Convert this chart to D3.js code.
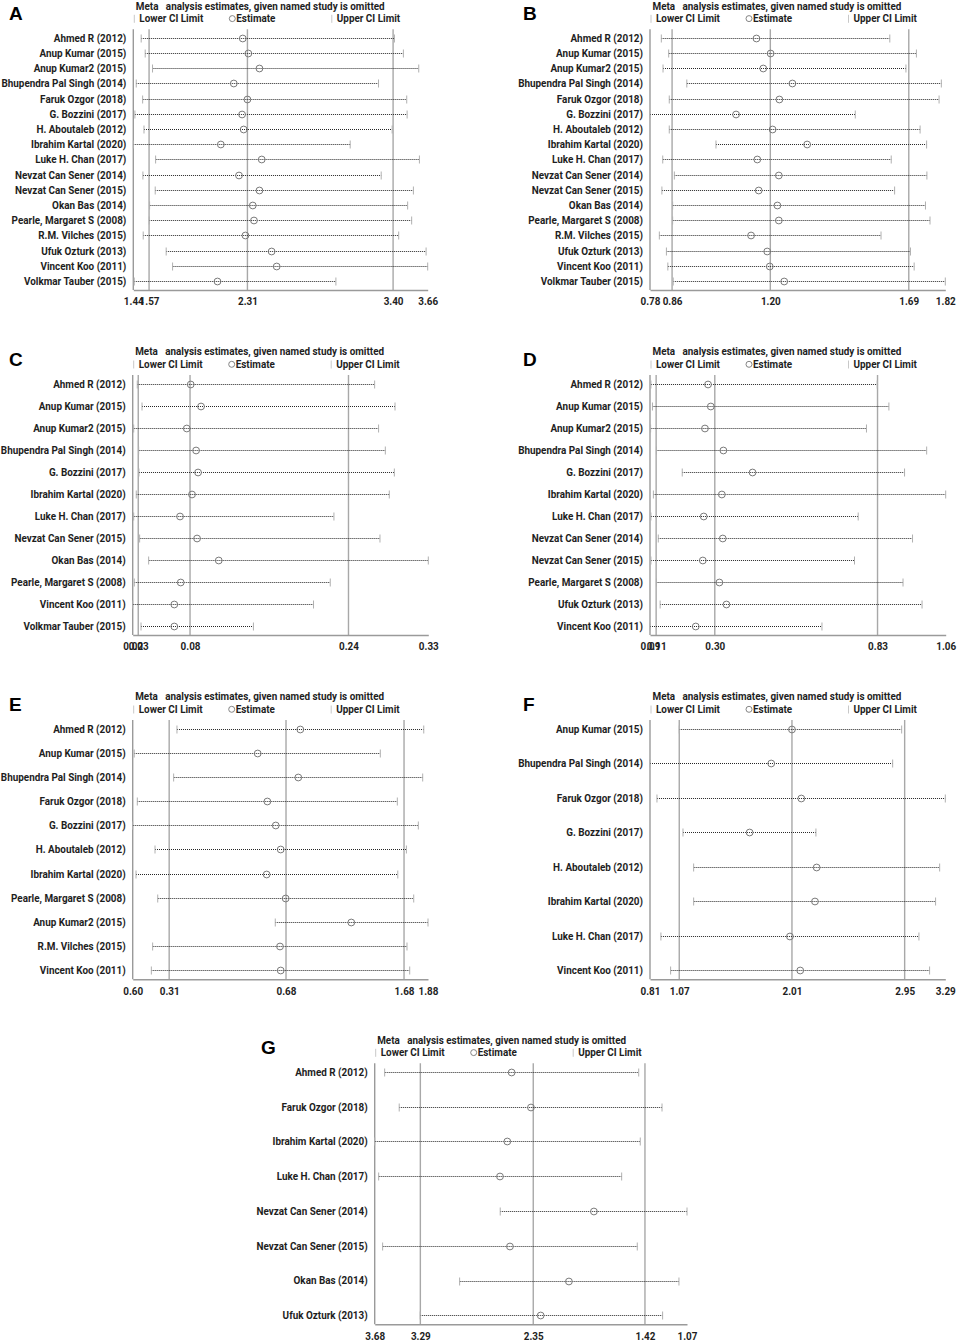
<!DOCTYPE html>
<html>
<head>
<meta charset="utf-8">
<script src="https://cdn.jsdelivr.net/npm/d3@7"></script>
<style>
  html, body { margin: 0; padding: 0; background: #fff; }
  svg text.t { font-family: "Roboto", "Liberation Sans", sans-serif; font-weight: bold; fill: #1e1e1e; }
</style>
</head>
<body>
<svg id="chart" width="959" height="1342"></svg>
<script>
// ---------------- DATA ----------------
const studiesA = ["Ahmed R (2012)","Anup Kumar (2015)","Anup Kumar2 (2015)","Bhupendra Pal Singh (2014)","Faruk Ozgor (2018)","G. Bozzini (2017)","H. Aboutaleb (2012)","Ibrahim Kartal (2020)","Luke H. Chan (2017)","Nevzat Can Sener (2014)","Nevzat Can Sener (2015)","Okan Bas (2014)","Pearle, Margaret S (2008)","R.M. Vilches (2015)","Ufuk Ozturk (2013)","Vincent Koo (2011)","Volkmar Tauber (2015)"];
const lowerA = [1.515,1.545,1.600,1.478,1.526,1.468,1.536,1.456,1.623,1.528,1.620,1.578,1.575,1.530,1.702,1.750,1.463];
const estA   = [2.275,2.317,2.400,2.208,2.310,2.270,2.282,2.111,2.417,2.247,2.400,2.350,2.359,2.295,2.491,2.529,2.086];
const upperA = [3.410,3.477,3.592,3.291,3.502,3.505,3.393,3.079,3.597,3.311,3.552,3.509,3.539,3.442,3.647,3.659,2.972];
const refA = [1.574,2.31,3.40];
const tickValsA = [1.456,1.574,2.31,3.40,3.659];
const tickLabelsA = ["1.44","1.57","2.31","3.40","3.66"];

const studiesB = studiesA;
const lowerB = [0.815,0.841,0.821,0.905,0.843,0.775,0.843,1.008,0.820,0.861,0.817,0.855,0.855,0.808,0.833,0.838,0.857];
const estB   = [1.151,1.201,1.175,1.278,1.232,1.079,1.208,1.330,1.154,1.230,1.159,1.225,1.230,1.132,1.189,1.198,1.249];
const upperB = [1.622,1.716,1.679,1.804,1.796,1.500,1.729,1.752,1.627,1.753,1.639,1.748,1.764,1.591,1.695,1.708,1.818];
const refB = [0.853,1.20,1.689];
const tickValsB = [0.775,0.853,1.20,1.689,1.818];
const tickLabelsB = ["0.78","0.86","1.20","1.69","1.82"];

const studiesC = ["Ahmed R (2012)","Anup Kumar (2015)","Anup Kumar2 (2015)","Bhupendra Pal Singh (2014)","G. Bozzini (2017)","Ibrahim Kartal (2020)","Luke H. Chan (2017)","Nevzat Can Sener (2015)","Okan Bas (2014)","Pearle, Margaret S (2008)","Vincent Koo (2011)","Volkmar Tauber (2015)"];
const lowerC = [0.0267,0.0315,0.0231,0.0281,0.0284,0.0257,0.0231,0.0291,0.0382,0.0237,0.0221,0.0305];
const estC   = [0.0807,0.0911,0.0767,0.0861,0.0881,0.0820,0.0699,0.0871,0.1090,0.0706,0.0641,0.0641];
const upperC = [0.2664,0.2870,0.2704,0.2772,0.2863,0.2812,0.2253,0.2718,0.3206,0.2216,0.2047,0.1440];
const refC = [0.0277,0.08,0.24];
const tickValsC = [0.0221,0.0277,0.08,0.24,0.3206];
const tickLabelsC = ["0.02","0.03","0.08","0.24","0.33"];

const studiesD = ["Ahmed R (2012)","Anup Kumar (2015)","Anup Kumar2 (2015)","Bhupendra Pal Singh (2014)","G. Bozzini (2017)","Ibrahim Kartal (2020)","Luke H. Chan (2017)","Nevzat Can Sener (2014)","Nevzat Can Sener (2015)","Pearle, Margaret S (2008)","Ufuk Ozturk (2013)","Vincent Koo (2011)"];
const lowerD = [0.092,0.097,0.091,0.110,0.194,0.100,0.092,0.116,0.092,0.110,0.122,0.089];
const estD   = [0.278,0.287,0.268,0.328,0.423,0.323,0.264,0.326,0.261,0.315,0.338,0.238];
const upperD = [0.829,0.867,0.794,0.990,0.918,1.052,0.767,0.944,0.755,0.913,0.975,0.649];
const refD = [0.109,0.30,0.83];
const tickValsD = [0.089,0.109,0.30,0.83,1.052];
const tickLabelsD = ["0.09","0.11","0.30","0.83","1.06"];

const studiesE = ["Ahmed R (2012)","Anup Kumar (2015)","Bhupendra Pal Singh (2014)","Faruk Ozgor (2018)","G. Bozzini (2017)","H. Aboutaleb (2012)","Ibrahim Kartal (2020)","Pearle, Margaret S (2008)","Anup Kumar2 (2015)","R.M. Vilches (2015)","Vincent Koo (2011)"];
const lowerE = [-0.244,-0.606,-0.272,-0.580,-0.619,-0.430,-0.591,-0.407,0.589,-0.450,-0.461];
const estE   = [0.801,0.440,0.784,0.522,0.593,0.635,0.516,0.677,1.233,0.629,0.635];
const upperE = [1.847,1.479,1.838,1.623,1.801,1.700,1.627,1.762,1.883,1.705,1.728];
const refE = [-0.31,0.68,1.68];
const tickValsE = [-0.619,-0.31,0.68,1.68,1.883];
const tickLabelsE = ["0.60","0.31","0.68","1.68","1.88"];

const studiesF = ["Anup Kumar (2015)","Bhupendra Pal Singh (2014)","Faruk Ozgor (2018)","G. Bozzini (2017)","H. Aboutaleb (2012)","Ibrahim Kartal (2020)","Luke H. Chan (2017)","Vincent Koo (2011)"];
const lowerF = [1.070,0.826,0.884,1.101,1.190,1.190,0.917,0.998];
const estF   = [2.010,1.837,2.088,1.657,2.216,2.202,1.993,2.079];
const upperF = [2.925,2.850,3.289,2.210,3.242,3.208,3.069,3.158];
const refF = [1.07,2.01,2.95];
const tickValsF = [0.826,1.07,2.01,2.95,3.289];
const tickLabelsF = ["0.81","1.07","2.01","2.95","3.29"];

const studiesG = ["Ahmed R (2012)","Faruk Ozgor (2018)","Ibrahim Kartal (2020)","Luke H. Chan (2017)","Nevzat Can Sener (2014)","Nevzat Can Sener (2015)","Okan Bas (2014)","Ufuk Ozturk (2013)"];
const lowerG = [-3.587,-3.466,-3.670,-3.637,-2.625,-3.604,-2.963,-3.291];
const estG   = [-2.530,-2.369,-2.566,-2.627,-1.845,-2.544,-2.053,-2.288];
const upperG = [-1.472,-1.278,-1.459,-1.614,-1.070,-1.484,-1.137,-1.273];
const refG = [-3.29,-2.35,-1.42];
const tickValsG = [-3.670,-3.29,-2.35,-1.42,-1.070];
const tickLabelsG = ["3.68","3.29","2.35","1.42","1.07"];

const headerText = "Meta   analysis estimates, given named study is omitted";
const legendLabels = ["Lower CI Limit","Estimate","Upper CI Limit"];

// ---------------- LAYOUT ----------------
const panels = [
  {letter:"A", s:studiesA, lo:lowerA, es:estA, up:upperA, ref:refA, tv:tickValsA, tl:tickLabelsA, x0:133.3, x1:427.7, y0:29.3, y1:290, lx:9},
  {letter:"B", s:studiesB, lo:lowerB, es:estB, up:upperB, ref:refB, tv:tickValsB, tl:tickLabelsB, x0:650, x1:945.3, y0:29.3, y1:290, lx:523},
  {letter:"C", s:studiesC, lo:lowerC, es:estC, up:upperC, ref:refC, tv:tickValsC, tl:tickLabelsC, x0:132.7, x1:428.3, y0:375, y1:635, lx:9},
  {letter:"D", s:studiesD, lo:lowerD, es:estD, up:upperD, ref:refD, tv:tickValsD, tl:tickLabelsD, x0:650, x1:945.7, y0:375, y1:635, lx:523},
  {letter:"E", s:studiesE, lo:lowerE, es:estE, up:upperE, ref:refE, tv:tickValsE, tl:tickLabelsE, x0:132.7, x1:428, y0:720, y1:979.3, lx:9},
  {letter:"F", s:studiesF, lo:lowerF, es:estF, up:upperF, ref:refF, tv:tickValsF, tl:tickLabelsF, x0:650, x1:945.3, y0:720, y1:979.3, lx:523},
  {letter:"G", s:studiesG, lo:lowerG, es:estG, up:upperG, ref:refG, tv:tickValsG, tl:tickLabelsG, x0:374.7, x1:687, y0:1063.3, y1:1324.3, lx:261}
];

const svg = d3.select("#chart");
const FS = 11;

// horizontal compression so the sans font matches the condensed original
const probe = svg.append("text").attr("class", "t").style("font-size", FS + "px").text("Bhupendra Pal Singh (2014)");
const SX = 125 / probe.node().getComputedTextLength();
probe.remove();

function txt(g, x, y, str, anchor, size) {
  const fs = size || FS;
  return g.append("text").attr("class", "t")
    .attr("transform", `translate(${x},${y}) scale(${SX * FS / fs},1)`)
    .attr("text-anchor", anchor || "start")
    .style("font-size", fs + "px").style("white-space", "pre")
    .text(str);
}

panels.forEach(p => {
  const g = svg.append("g");
  const dom = [d3.min(p.lo), d3.max(p.up)];
  const x = d3.scaleLinear().domain(dom).range([p.x0, p.x1]);
  const y = d3.scalePoint().domain(p.s).range([p.y0 + 8.6, p.y1 - 9]);
  const yr = d => Math.round(y(d)) + 0.5;

  // panel letter
  g.append("text").attr("x", p.lx).attr("y", p.y0 - 9.5)
    .style("font-family", "'Liberation Sans', Arial, sans-serif")
    .style("font-size", "19px").style("font-weight", "bold").style("fill", "#000")
    .text(p.letter);

  // header
  txt(g, p.x0 + 2.5, p.y0 - 19.6, headerText, "start", 10.6);

  // legend
  const ly = p.y0 - 7;
  const lxs = [p.x0 + 1, p.x0 + 99, p.x0 + 198.5];
  [0, 2].forEach(i => {
    g.append("line").attr("x1", lxs[i]).attr("x2", lxs[i]).attr("y1", ly - 7.5).attr("y2", ly + 0.5)
      .attr("stroke", "#c8c8c8").attr("stroke-width", 1);
    txt(g, lxs[i] + 5, ly, legendLabels[i]);
  });
  g.append("circle").attr("cx", lxs[1]).attr("cy", ly - 3.7).attr("r", 3)
    .attr("fill", "#fff").attr("stroke", "#777").attr("stroke-width", 0.9);
  txt(g, lxs[1] + 4, ly, legendLabels[1]);

  // reference lines
  g.selectAll("line.ref").data(p.ref).enter().append("line")
    .attr("x1", d => x(d)).attr("x2", d => x(d))
    .attr("y1", p.y0).attr("y2", p.y1)
    .attr("stroke", "#a8a8a8").attr("stroke-width", 1.4);

  // axes frame (left and bottom)
  g.append("line").attr("x1", p.x0).attr("x2", p.x0).attr("y1", p.y0).attr("y2", p.y1)
    .attr("stroke", "#9a9a9a").attr("stroke-width", 1.4);
  const xAxis = d3.axisBottom(x).tickValues(p.tv).tickSize(0)
    .tickFormat((d, i) => p.tl[i]);
  const ax = g.append("g").attr("transform", `translate(0,${p.y1})`).call(xAxis);
  ax.select(".domain").attr("stroke", "#9a9a9a").attr("stroke-width", 1.4);
  ax.selectAll(".tick text").attr("class", "t").attr("y", 0).attr("dy", 0)
    .attr("transform", `translate(0,15.3) scale(${SX},1)`)
    .attr("fill", null)
    .style("font-size", FS + "px");

  // row labels
  p.s.forEach(s => txt(g, p.x0 - 7, y(s) + 3.9, s, "end"));

  const rows = p.s.map((s, i) => ({s, lo: p.lo[i], es: p.es[i], up: p.up[i]}));
  // dotted CI lines
  g.selectAll("line.ci").data(rows).enter().append("line")
    .attr("x1", d => x(d.lo)).attr("x2", d => x(d.up))
    .attr("y1", d => yr(d.s)).attr("y2", d => yr(d.s))
    .attr("stroke", "#262626").attr("stroke-width", 1.2).attr("stroke-dasharray", "1,1");
  // caps
  ["lo", "up"].forEach(k => {
    g.selectAll("line.cap" + k).data(rows).enter().append("line")
      .attr("x1", d => x(d[k])).attr("x2", d => x(d[k]))
      .attr("y1", d => yr(d.s) - 4).attr("y2", d => yr(d.s) + 4)
      .attr("stroke", "#b0b0b0").attr("stroke-width", 1);
  });
  // estimates
  g.selectAll("circle.est").data(rows).enter().append("circle")
    .attr("cx", d => x(d.es)).attr("cy", d => yr(d.s)).attr("r", 3.4)
    .attr("fill", "none").attr("stroke", "#7a7a7a").attr("stroke-width", 1);
});
</script>
</body>
</html>
